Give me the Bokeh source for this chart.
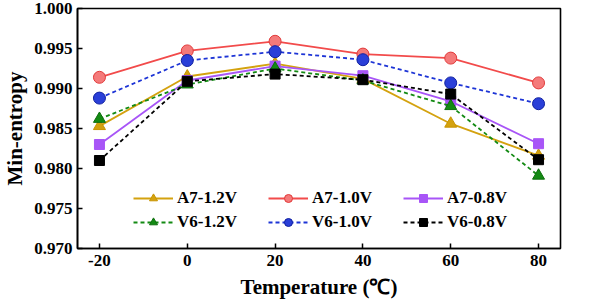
from bokeh.plotting import figure
from bokeh.models import FixedTicker, Legend, LegendItem, NumeralTickFormatter, Range1d
from bokeh.embed import file_html
from bokeh.resources import INLINE

temps = [-20, 0, 20, 40, 60, 80]
a7_12 = [0.9853, 0.9915, 0.9931, 0.9912, 0.9856, 0.9816]
a7_10 = [0.9914, 0.9947, 0.9959, 0.9943, 0.9938, 0.9907]
a7_08 = [0.9830, 0.9910, 0.9928, 0.9916, 0.9884, 0.9831]
v6_12 = [0.9862, 0.9905, 0.9925, 0.9910, 0.9878, 0.9791]
v6_10 = [0.9888, 0.9935, 0.9946, 0.9936, 0.9907, 0.9881]
v6_08 = [0.9810, 0.9909, 0.9918, 0.9911, 0.9893, 0.9811]

x_ticks = [-20, 0, 20, 40, 60, 80]
y_ticks = [0.970, 0.975, 0.980, 0.985, 0.990, 0.995, 1.000]

FONT = "Liberation Serif"

p = figure(output_backend="svg", toolbar_location=None,
           x_range=Range1d(-25, 85), y_range=Range1d(0.970, 1.000),
           frame_width=483, frame_height=240,
           min_border_left=10, min_border_top=8, min_border_right=12, min_border_bottom=2)

p.xgrid.visible = False
p.ygrid.visible = False
p.outline_line_color = "black"
p.outline_line_width = 1.6
p.background_fill_color = "white"

for ax in (p.xaxis[0], p.yaxis[0]):
    ax.axis_line_width = 1.6
    ax.major_tick_in = 5
    ax.major_tick_out = 0
    ax.minor_tick_in = 0
    ax.minor_tick_out = 0
    ax.major_tick_line_width = 1.5
    ax.major_label_text_font = FONT
    ax.major_label_text_font_style = "bold"
    ax.major_label_text_font_size = "17px"
    ax.major_label_text_color = "black"
    ax.axis_label_text_font = FONT
    ax.axis_label_text_font_style = "bold"
    ax.axis_label_text_font_size = "21px"
    ax.axis_label_text_color = "black"

p.xaxis.ticker = FixedTicker(ticks=x_ticks)
p.yaxis.ticker = FixedTicker(ticks=y_ticks)
p.yaxis.formatter = NumeralTickFormatter(format="0.000")
p.xaxis.major_label_overrides = {-20: "-20"}
p.xaxis.axis_label = "Temperature (℃)"
p.yaxis.axis_label = "Min-entropy"
p.xaxis.major_label_standoff = 6
p.yaxis.major_label_standoff = 5
p.xaxis.axis_label_standoff = 6
p.yaxis.axis_label_standoff = 4

series = [
    ("A7-1.2V", a7_12, "#d4a20f", "solid", "triangle", "#d4a20f", "#c89400", 12),
    ("A7-1.0V", a7_10, "#f24b4b", "solid", "circle", "#f47a7a", "#e23a3a", 12),
    ("A7-0.8V", a7_08, "#a855f7", "solid", "square", "#a855f7", "#a855f7", 10),
    ("V6-1.2V", v6_12, "#138a13", "4 3", "triangle", "#138a13", "#0d6e0d", 12),
    ("V6-1.0V", v6_10, "#1d34d6", "4 3", "circle", "#2a3fd8", "#1020a0", 12),
    ("V6-0.8V", v6_08, "black", "4 3", "square", "black", "black", 10),
]

items = []
for name, ys, lc, dash, marker, fc, mlc, sz in series:
    r1 = p.line(temps, ys, line_color=lc, line_width=1.8, line_dash=dash)
    r2 = p.scatter(temps, ys, marker=marker, size=sz, fill_color=fc, line_color=mlc, line_width=1)
    items.append(LegendItem(label=name, renderers=[r1, r2]))

legend = Legend(items=items, orientation="horizontal", ncols=3,
                location=(56, 16), glyph_width=40, glyph_height=20,
                label_standoff=4, spacing=4, padding=0, margin=0,
                label_width=87,
                border_line_color=None, background_fill_alpha=0,
                label_text_font=FONT, label_text_font_style="bold",
                label_text_color="black",
                label_text_font_size="17px", label_height=20)
p.add_layout(legend, "center")

open("out.html", "w").write(file_html(p, INLINE))
